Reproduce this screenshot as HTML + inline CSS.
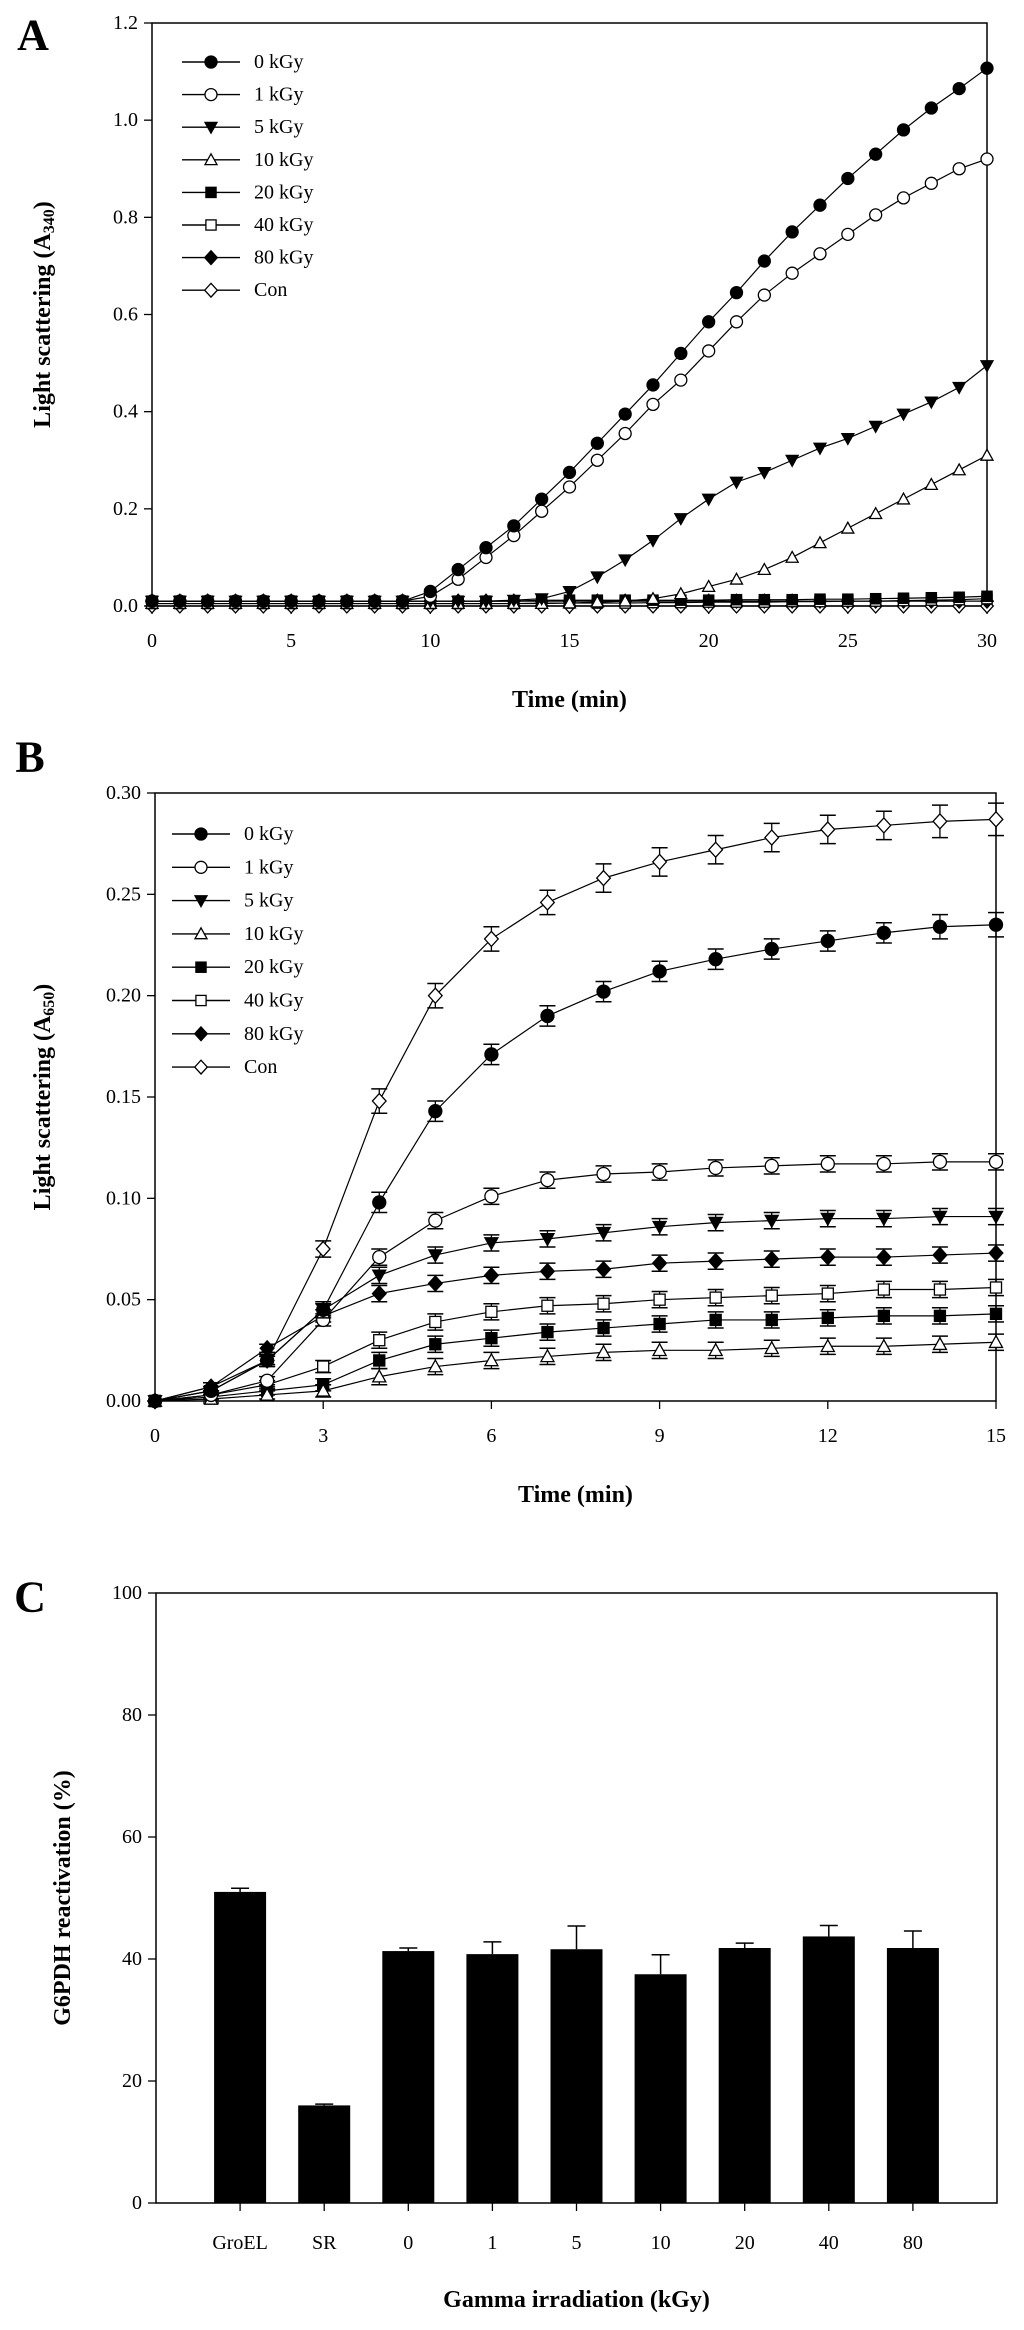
<!DOCTYPE html>
<html><head><meta charset="utf-8">
<style>
html,body{margin:0;padding:0;background:#fff;}
svg{display:block;font-family:"Liberation Serif",serif;}
</style></head>
<body>
<svg id="fig" width="1024" height="2330" viewBox="0 0 1024 2330" xmlns="http://www.w3.org/2000/svg"></svg>
<script>
// ---------- Panel A data ----------
const timeA = [0,1,2,3,4,5,6,7,8,9,10,11,12,13,14,15,16,17,18,19,20,21,22,23,24,25,26,27,28,29,30];
const a0  = [0.01,0.01,0.01,0.01,0.01,0.01,0.01,0.01,0.01,0.01,0.03,0.075,0.12,0.165,0.22,0.275,0.335,0.395,0.455,0.52,0.585,0.645,0.71,0.77,0.825,0.88,0.93,0.98,1.025,1.065,1.107];
const a1  = [0.01,0.01,0.01,0.01,0.01,0.01,0.01,0.01,0.01,0.01,0.02,0.055,0.1,0.145,0.195,0.245,0.3,0.355,0.415,0.465,0.525,0.585,0.64,0.685,0.725,0.765,0.805,0.84,0.87,0.9,0.92];
const a5  = [0.01,0.01,0.01,0.01,0.01,0.01,0.01,0.01,0.01,0.01,0.01,0.01,0.01,0.012,0.015,0.03,0.06,0.095,0.135,0.18,0.22,0.255,0.275,0.3,0.325,0.345,0.37,0.395,0.42,0.45,0.495];
const a10 = [0.005,0.005,0.005,0.005,0.005,0.005,0.005,0.005,0.005,0.005,0.005,0.005,0.005,0.005,0.005,0.006,0.008,0.01,0.015,0.025,0.04,0.055,0.075,0.1,0.13,0.16,0.19,0.22,0.25,0.28,0.31];
const a20 = [0.01,0.01,0.01,0.01,0.01,0.01,0.01,0.01,0.01,0.01,0.01,0.01,0.01,0.01,0.012,0.012,0.012,0.012,0.012,0.012,0.012,0.013,0.013,0.013,0.014,0.014,0.015,0.016,0.017,0.018,0.02];
const a40 = [0.005,0.005,0.005,0.005,0.005,0.005,0.005,0.005,0.005,0.005,0.005,0.005,0.005,0.005,0.006,0.006,0.006,0.006,0.007,0.007,0.008,0.008,0.008,0.009,0.009,0.01,0.01,0.011,0.012,0.013,0.015];
const a80 = [0.01,0.01,0.01,0.01,0.01,0.01,0.01,0.01,0.01,0.01,0.01,0.01,0.01,0.01,0.01,0.01,0.01,0.01,0.01,0.01,0.01,0.01,0.01,0.01,0.01,0.01,0.01,0.01,0.01,0.01,0.01];
const aCon= [0,0,0,0,0,0,0,0,0,0,0,0,0,0,0,0,0,0,0,0,0,0,0,0,0,0,0,0,0,0,0];
const ticksAx = [0,5,10,15,20,25,30];
const ticksAy = ["0.0","0.2","0.4","0.6","0.8","1.0","1.2"];
// ---------- Panel B data ----------
const timeB = [0,1,2,3,4,5,6,7,8,9,10,11,12,13,14,15];
const b0  = [0,0.005,0.02,0.045,0.098,0.143,0.171,0.19,0.202,0.212,0.218,0.223,0.227,0.231,0.234,0.235];
const b1  = [0,0.003,0.01,0.04,0.071,0.089,0.101,0.109,0.112,0.113,0.115,0.116,0.117,0.117,0.118,0.118];
const b5  = [0,0.005,0.02,0.045,0.062,0.072,0.078,0.08,0.083,0.086,0.088,0.089,0.09,0.09,0.091,0.091];
const b10 = [0,0.001,0.003,0.005,0.012,0.017,0.02,0.022,0.024,0.025,0.025,0.026,0.027,0.027,0.028,0.029];
const b20 = [0,0.002,0.005,0.008,0.02,0.028,0.031,0.034,0.036,0.038,0.04,0.04,0.041,0.042,0.042,0.043];
const b40 = [0,0.003,0.008,0.017,0.03,0.039,0.044,0.047,0.048,0.05,0.051,0.052,0.053,0.055,0.055,0.056];
const b80 = [0,0.007,0.026,0.042,0.053,0.058,0.062,0.064,0.065,0.068,0.069,0.07,0.071,0.071,0.072,0.073];
const bCon= [0,0.007,0.02,0.075,0.148,0.2,0.228,0.246,0.258,0.266,0.272,0.278,0.282,0.284,0.286,0.287];
const errB0  = [0,0.002,0.003,0.004,0.005,0.005,0.005,0.005,0.005,0.005,0.005,0.005,0.005,0.005,0.006,0.006];
const errBCon= [0,0.002,0.003,0.004,0.006,0.006,0.006,0.006,0.007,0.007,0.007,0.007,0.007,0.007,0.008,0.008];
const errBo  = [0,0.002,0.002,0.003,0.004,0.004,0.004,0.004,0.004,0.004,0.004,0.004,0.004,0.004,0.004,0.004];
const ticksBx = [0,3,6,9,12,15];
const ticksBy = ["0.00","0.05","0.10","0.15","0.20","0.25","0.30"];
// ---------- Panel C data ----------
const catsC = ["GroEL","SR","0","1","5","10","20","40","80"];
const valsC = [51,16,41.3,40.8,41.6,37.5,41.8,43.7,41.8];
const errsC = [0.6,0.2,0.5,2,3.8,3.2,0.8,1.8,2.8];
const ticksCy = [0,20,40,60,80,100];

const NS = "http://www.w3.org/2000/svg";
const svg = document.getElementById('fig');
function mk(tag, attrs, parent){
  const e = document.createElementNS(NS, tag);
  for (const k in attrs) e.setAttribute(k, attrs[k]);
  (parent||svg).appendChild(e);
  return e;
}
function txt(x,y,s,size,opts,parent){
  const t = mk('text',Object.assign({x:x,y:y,'font-size':size,'text-anchor':'middle','dominant-baseline':'central',fill:'#000'},opts||{}),parent);
  t.textContent = s; return t;
}
function marker(g, type, cx, cy, r){
  let e;
  const filled = ['circle','tri','square','diamond'].includes(type);
  const fill = filled ? '#000' : '#fff';
  const kind = type.replace('Open','');
  if (kind==='circle') e = mk('circle',{cx:cx,cy:cy,r:r,fill:fill,stroke:'#000','stroke-width':1.3},g);
  else if (kind==='tri') e = mk('polygon',{points:`${cx-r},${cy-r*0.8} ${cx+r},${cy-r*0.8} ${cx},${cy+r}`,fill:fill,stroke:'#000','stroke-width':1.3},g);
  else if (kind==='triUp') e = mk('polygon',{points:`${cx-r},${cy+r*0.8} ${cx+r},${cy+r*0.8} ${cx},${cy-r}`,fill:fill,stroke:'#000','stroke-width':1.3},g);
  else if (kind==='square') e = mk('rect',{x:cx-r*0.85,y:cy-r*0.85,width:r*1.7,height:r*1.7,fill:fill,stroke:'#000','stroke-width':1.3},g);
  else if (kind==='diamond') e = mk('polygon',{points:`${cx},${cy-r*1.15} ${cx+r*1.05},${cy} ${cx},${cy+r*1.15} ${cx-r*1.05},${cy}`,fill:fill,stroke:'#000','stroke-width':1.3},g);
  return e;
}
const legendNames = ["0 kGy","1 kGy","5 kGy","10 kGy","20 kGy","40 kGy","80 kGy","Con"];
const markerTypes = ["circle","circleOpen","tri","triUpOpen","square","squareOpen","diamond","diamondOpen"];

function linePanel(cfg){
  const g = mk('g',{});
  
  
  const X = v => cfg.x0 + (v - cfg.xmin)/(cfg.xmax-cfg.xmin)*(cfg.x1-cfg.x0);
  const Y = v => cfg.y0 - (v - cfg.ymin)/(cfg.ymax-cfg.ymin)*(cfg.y0-cfg.y1);
  const fr = mk('rect',{x:cfg.x0,y:cfg.y1,width:cfg.x1-cfg.x0,height:cfg.y0-cfg.y1,fill:'none',stroke:'#000','stroke-width':1.5},g);
   
  cfg.yticks.forEach(lbl=>{
    const v = parseFloat(lbl), y = Y(v);
    mk('line',{x1:cfg.x0-8,x2:cfg.x0,y1:y,y2:y,stroke:'#000','stroke-width':1.3},g);
    const t = txt(cfg.x0-14,y,lbl,20,{'text-anchor':'end'},g);
     
  });
  cfg.xticks.forEach(v=>{
    const x = X(v);
    mk('line',{x1:x,x2:x,y1:cfg.y0,y2:cfg.y0+8,stroke:'#000','stroke-width':1.3},g);
    const t = txt(x,cfg.y0+35,String(v),20,{},g);
     
  });
  const xt = txt((cfg.x0+cfg.x1)/2, cfg.xTitleY, 'Time (min)', 24, {'font-weight':'bold'}, g);
   
  const yt = mk('text',{x:0,y:0,'font-size':24,'font-weight':'bold','text-anchor':'middle','dominant-baseline':'central',transform:`translate(${cfg.yTitleX},${(cfg.y0+cfg.y1)/2}) rotate(-90)`},g);
   
  yt.innerHTML = `Light scattering (A<tspan font-size="16" dy="6">${cfg.sub}</tspan><tspan dy="-6">)</tspan>`;
  const pl = txt(cfg.letterX, cfg.letterY, cfg.letter, 44, {'font-weight':'bold'}, g);
   
  for (let s = cfg.series.length-1; s>=0; s--){
    const sg = mk('g',{},g);
    
    
    const vals = cfg.series[s];
    const pts = cfg.xs.map((t,i)=>X(t)+','+Y(vals[i])).join(' ');
    mk('polyline',{points:pts,fill:'none',stroke:'#000','stroke-width':1.2},sg);
    if (cfg.errs){
      const er = cfg.errs[s];
      cfg.xs.forEach((t,i)=>{
        if (!er[i]) return;
        const x=X(t), yh=Y(vals[i]+er[i]), yl=Y(vals[i]-er[i]);
        mk('line',{x1:x,x2:x,y1:yh,y2:yl,stroke:'#000','stroke-width':1.3},sg);
        mk('line',{x1:x-8,x2:x+8,y1:yh,y2:yh,stroke:'#000','stroke-width':1.5},sg);
        mk('line',{x1:x-8,x2:x+8,y1:yl,y2:yl,stroke:'#000','stroke-width':1.5},sg);
      });
    }
    cfg.xs.forEach((t,i)=>{
      const m = marker(sg, markerTypes[s], X(t), Y(vals[i]), cfg.r);
      
      
    });
  }
  const lg = mk('g',{},g);
   
  legendNames.forEach((n,i)=>{
    const y = cfg.legY + i*cfg.legDy;
    const eg = mk('g',{},lg);
     
    mk('line',{x1:cfg.legX,x2:cfg.legX+58,y1:y,y2:y,stroke:'#000','stroke-width':1.4},eg);
    marker(eg, markerTypes[i], cfg.legX+29, y, 6);
    txt(cfg.legX+72, y, n, 20, {'text-anchor':'start'}, eg);
  });
}

linePanel({name:'panel-a-chart',x0:152,x1:987,y0:606,y1:23,xmin:0,xmax:30,ymin:0,ymax:1.2,
  xs:timeA, series:[a0,a1,a5,a10,a20,a40,a80,aCon], errs:null, r:6,
  yticks:ticksAy, xticks:ticksAx, xTitleY:700, yTitleX:43, sub:'340',
  letter:'A', letterX:33, letterY:35, legX:182, legY:62, legDy:32.6});

linePanel({name:'panel-b-chart',x0:155,x1:996,y0:1401,y1:793,xmin:0,xmax:15,ymin:0,ymax:0.30,
  xs:timeB, series:[b0,b1,b5,b10,b20,b40,b80,bCon],
  errs:[errB0,errBo,errBo,errBo,errBo,errBo,errBo,errBCon], r:6.5,
  yticks:ticksBy, xticks:ticksBx, xTitleY:1495, yTitleX:43, sub:'650',
  letter:'B', letterX:30, letterY:757, legX:172, legY:834, legDy:33.3});

// ---------- Panel C ----------
(function(){
  const g = mk('g',{});
  
  
  const x0=156, x1=997, y0=2203, y1=1593;
  const slot = (x1-x0)/(catsC.length+1);
  const X = i => x0 + (i+1)*slot;
  const Y = v => y0 - v/100*(y0-y1);
  const fr = mk('rect',{x:x0,y:y1,width:x1-x0,height:y0-y1,fill:'none',stroke:'#000','stroke-width':1.5},g);
   
  ticksCy.forEach(v=>{
    const y=Y(v);
    mk('line',{x1:x0-8,x2:x0,y1:y,y2:y,stroke:'#000','stroke-width':1.3},g);
    const t = txt(x0-14,y,String(v),20,{'text-anchor':'end'},g);
     
  });
  catsC.forEach((c,i)=>{
    const x=X(i), bw=52;
    mk('line',{x1:x,x2:x,y1:y0,y2:y0+8,stroke:'#000','stroke-width':1.3},g);
    const t = txt(x,2243,c,20,{},g);
     
    const eh = Y(valsC[i]+errsC[i]);
    const el = mk('line',{x1:x,x2:x,y1:Y(valsC[i]),y2:eh,stroke:'#000','stroke-width':1.5},g);
     
    mk('line',{x1:x-9,x2:x+9,y1:eh,y2:eh,stroke:'#000','stroke-width':1.5},g);
    const b = mk('rect',{x:x-bw/2,y:Y(valsC[i]),width:bw,height:y0-Y(valsC[i]),fill:'#000'},g);
    
    
  });
  const xt = txt((x0+x1)/2, 2300, 'Gamma irradiation (kGy)', 24, {'font-weight':'bold'}, g);
   
  const yt = txt(0,0,'G6PDH reactivation (%)',24,{'font-weight':'bold',x:0,y:0,transform:`translate(63,${(y0+y1)/2}) rotate(-90)`},g);
   
  const pl = txt(30,1597,'C',44,{'font-weight':'bold'},g);
   
})();
</script>
</body></html>
